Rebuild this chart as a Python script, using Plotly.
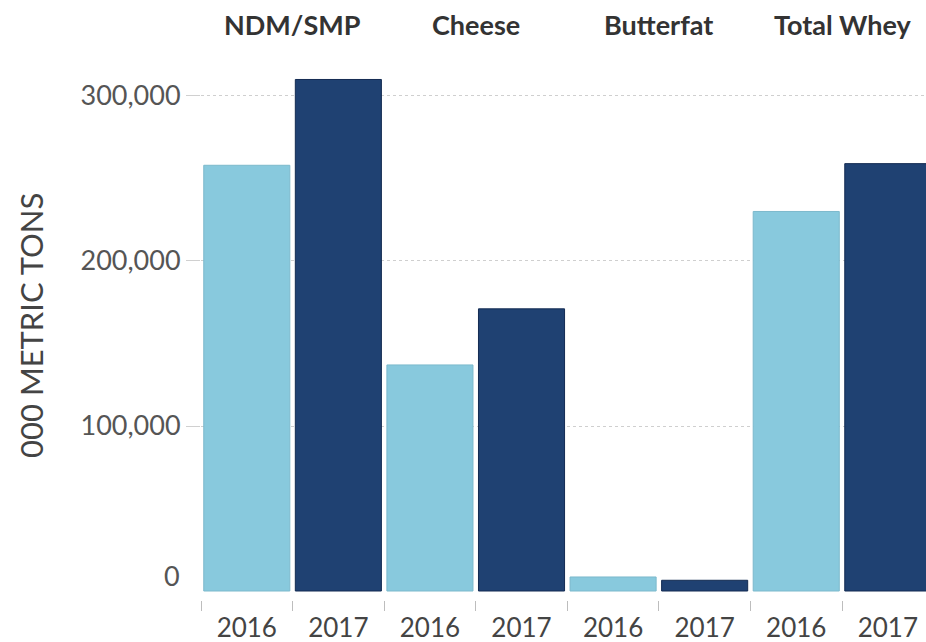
import plotly.graph_objects as go

# Dairy export volumes by product, 2016 vs 2017 (000 metric tons)
categories = ["NDM/SMP", "Cheese", "Butterfat", "Total Whey"]
years = ["2016", "2017"]
values_2016 = [258000, 137000, 8500, 230000]
values_2017 = [310000, 171000, 6500, 259000]

colors = {"2016": "#88c9dd", "2017": "#1f4172"}
edge_colors = {"2016": "#7cb9cc", "2017": "#132b52"}

FONT = "Lato"

# each product gets two adjacent slots: 2016 then 2017
x_2016 = [2 * i for i in range(len(categories))]
x_2017 = [2 * i + 1 for i in range(len(categories))]

fig = go.Figure()
for yr, xs, vals in (("2016", x_2016, values_2016), ("2017", x_2017, values_2017)):
    fig.add_trace(go.Bar(
        x=xs, y=vals, name=yr, width=0.94,
        marker=dict(color=colors[yr], line=dict(color=edge_colors[yr], width=1)),
        showlegend=False,
    ))

n_slots = 2 * len(categories)
tick_vals = list(range(n_slots))
tick_text = [years[i % 2] for i in range(n_slots)]
boundaries = [i - 0.5 for i in range(n_slots + 1)]

fig.update_layout(
    width=926, height=642,
    margin=dict(l=201, r=0, t=60, b=42),
    plot_bgcolor="white", paper_bgcolor="white",
    barmode="overlay",
    font=dict(family=FONT, size=26, color="#555555"),
    xaxis=dict(
        range=[-0.5, 7.417],
        tickvals=tick_vals, ticktext=tick_text,
        ticks="", showgrid=False, showline=False, zeroline=False,
        ticklabelstandoff=10,
        tickfont=dict(family=FONT, size=26, color="#444444"),
        minor=dict(tickvals=boundaries, ticks="outside", ticklen=10,
                   tickcolor="#bdbdbd", tickwidth=1, showgrid=False),
    ),
    yaxis=dict(
        range=[-5450, 321800],
        tickvals=[100000, 200000, 300000],
        ticktext=["100,000", "200,000", "300,000"],
        ticks="outside", ticklen=14, tickcolor="#d0d0d0", tickwidth=1,
        showgrid=True, gridcolor="#cfcfcf", griddash="dot", gridwidth=1,
        zeroline=False, showline=False,
        tickfont=dict(family=FONT, size=27, color="#555555"),
    ),
)

# product headers above each pair of bars
for i, cat in enumerate(categories):
    fig.add_annotation(
        x=2 * i + 0.5, y=1.065, xref="x", yref="paper",
        text=cat, showarrow=False, xanchor="center", yanchor="middle",
        font=dict(family=FONT, size=27, color="#333333", weight="bold"),
    )

# zero label sits slightly above the baseline
fig.add_annotation(
    x=0, y=0, xref="paper", yref="y", xanchor="right", yanchor="middle",
    xshift=-19, yshift=16, text="0", showarrow=False,
    font=dict(family=FONT, size=27, color="#555555"),
)

# vertical axis title
fig.add_annotation(
    x=(31 - 201) / 725, y=(600 - 326) / 540, xref="paper", yref="paper",
    showarrow=False, text="000 METRIC TONS", textangle=-90,
    xanchor="center", yanchor="middle",
    font=dict(family=FONT, size=31, color="#444444"),
)

fig.write_html("out.html")
